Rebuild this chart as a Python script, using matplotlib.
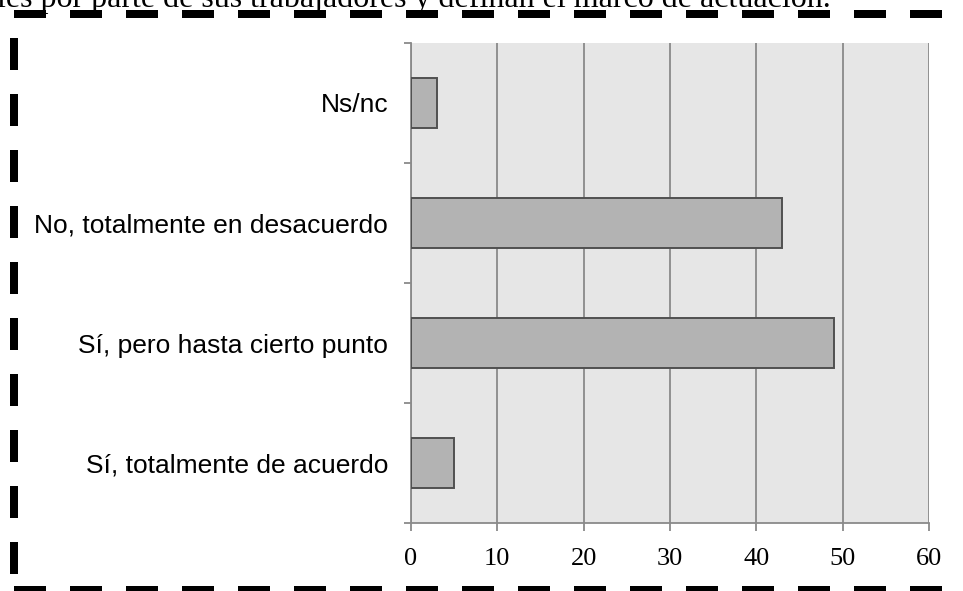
import matplotlib
matplotlib.use("Agg")
import matplotlib.pyplot as plt
from matplotlib.patches import Rectangle

categories = ["Sí, totalmente de acuerdo", "Sí, pero hasta cierto punto",
              "No, totalmente en desacuerdo", "Ns/nc"]
values = [5, 49, 43, 3]
xticks = [0, 10, 20, 30, 40, 50, 60]
caption = "les por parte de sus trabajadores y definan el marco de actuación."

W, H = 963, 591
fig = plt.figure(figsize=(W / 100, H / 100), dpi=100)

# main axes in pixel geometry
L, R, T, B = 411, 929, 43, 523
ax = fig.add_axes([L / W, 1 - B / H, (R - L) / W, (B - T) / H])
ax.set_facecolor("#e6e6e6")
ax.set_xlim(0, 60)
ax.set_ylim(-0.5, len(categories) - 0.5)
ax.set_axisbelow(True)
ax.xaxis.grid(True, color="#8a8a8a", linewidth=1.3)
ax.yaxis.grid(False)

ypos = list(range(len(categories)))
ax.barh(ypos, values, height=0.41, color="#b3b3b3", edgecolor="#505050", linewidth=1.4, zorder=3)

for s in ["top", "right"]:
    ax.spines[s].set_visible(False)
for s in ["left", "bottom"]:
    ax.spines[s].set_color("#8a8a8a")
    ax.spines[s].set_linewidth(1.3)

ax.set_xticks(xticks)
ax.set_xticklabels([str(t) for t in xticks], fontfamily="Liberation Serif", fontsize=19)
ax.tick_params(axis="x", length=6, color="#8a8a8a", width=1.3, pad=12)

# category boundary ticks (major, unlabeled) and centered labels (minor)
ax.set_yticks([i - 0.5 for i in range(len(categories) + 1)])
ax.set_yticklabels([])
ax.tick_params(axis="y", which="major", length=5, color="#8a8a8a", width=1.3)
ax.set_yticks(ypos, minor=True)
ax.set_yticklabels(categories, minor=True, fontfamily="Liberation Sans", fontsize=19)
ax.tick_params(axis="y", which="minor", length=0, pad=16.5)

# overlay for decoration (dashed frame and cut-off caption)
ov = fig.add_axes([0, 0, 1, 1], zorder=-1)
ov.set_xlim(0, W)
ov.set_ylim(H, 0)
ov.axis("off")
for x in range(14, W, 56):
    ov.add_patch(Rectangle((x, 10), 32, 8, color="black", lw=0))
    ov.add_patch(Rectangle((x, 586), 32, 8, color="black", lw=0))
for y in range(38, 580, 56):
    ov.add_patch(Rectangle((10, y), 8, 32, color="black", lw=0))
ov.text(-3, 7, caption, fontfamily="Liberation Serif", fontsize=23, ha="left", va="baseline")

fig.savefig("out.png", dpi=100)
